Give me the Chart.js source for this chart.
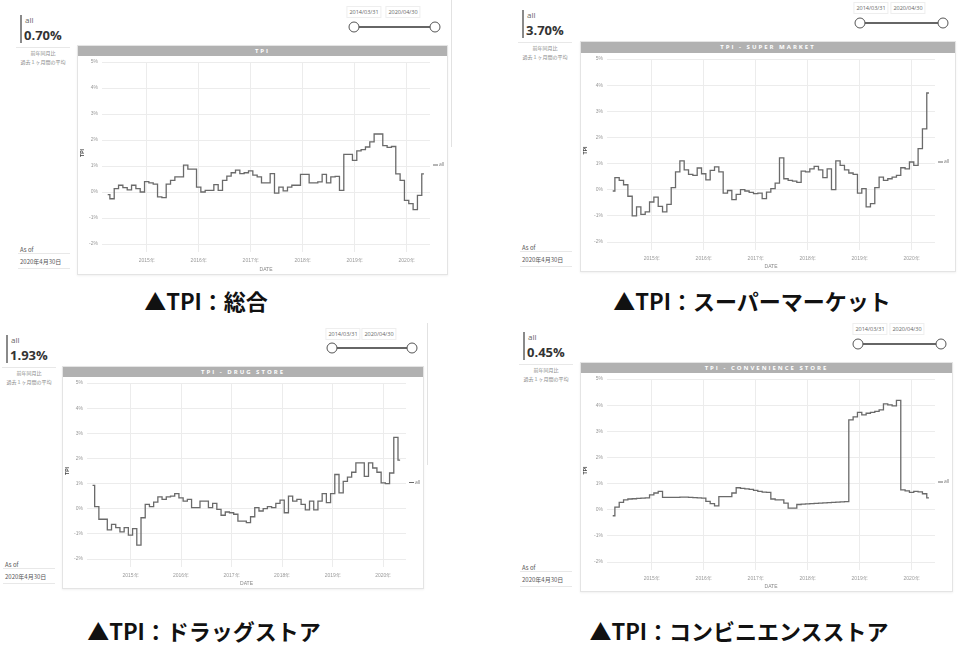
<!DOCTYPE html>
<html>
<head>
<meta charset="utf-8">
<script src="https://cdn.jsdelivr.net/npm/chart.js@4.4.0/dist/chart.umd.min.js"></script>
<style>
    body { margin: 0; width: 965px; height: 662px; background: #fff; position: relative; overflow: hidden;
           font-family: "Open Sans", "Noto Sans CJK JP", sans-serif; color: #666; }
    .abs { position: absolute; white-space: nowrap; }
    .kpi-bar { position: absolute; width: 2px; height: 28px; background: #8a8a8a; }
    .kpi-label { font-size: 8px; color: #666; }
    .kpi-value { font-size: 13px; font-weight: bold; color: #333; }
    .kpi-note { font-size: 5px; color: #888; font-family: "Noto Sans CJK JP", sans-serif; transform: translateX(-50%); line-height: 9px; text-align: center; }
    .asof { font-size: 6px; color: #555; font-family: "Noto Sans CJK JP", sans-serif; }
    .sep { position: absolute; height: 1px; background: #e8e8e8; }
    .date-box { position: absolute; font-size: 5.5px; color: #666; border: 1px solid #eee; padding: 1px 2px; transform: translate(-50%, -50%); }
    .knob { position: absolute; width: 9px; height: 9px; border: 1.5px solid #555; border-radius: 50%; background: #fff; transform: translate(-50%, -50%); }
    .track { position: absolute; height: 2px; background: #666; }
    .card { position: absolute; border: 1px solid #e4e4e4; box-shadow: 0 1px 2px rgba(0,0,0,0.06); box-sizing: border-box; }
    .card-hdr { position: absolute; left: 0; right: 0; top: 0; background: #b1b1b1;
                color: #fff; font-size: 6px; font-weight: bold; letter-spacing: 2px; text-align: center; }
    .caption { position: absolute; font-family: "Noto Sans CJK JP", sans-serif; font-weight: bold; font-size: 22px; color: #111; transform: translate(-50%, -50%); white-space: nowrap; }
    canvas { position: absolute; }
</style>
</head>
<body>
<script>
// Month-end dates (2014/03/31 .. 2020/04/30)
const months = [
    '2014-03', '2014-04', '2014-05', '2014-06', '2014-07', '2014-08', '2014-09', '2014-10', '2014-11', '2014-12',
    '2015-01', '2015-02', '2015-03', '2015-04', '2015-05', '2015-06', '2015-07', '2015-08', '2015-09', '2015-10', '2015-11', '2015-12',
    '2016-01', '2016-02', '2016-03', '2016-04', '2016-05', '2016-06', '2016-07', '2016-08', '2016-09', '2016-10', '2016-11', '2016-12',
    '2017-01', '2017-02', '2017-03', '2017-04', '2017-05', '2017-06', '2017-07', '2017-08', '2017-09', '2017-10', '2017-11', '2017-12',
    '2018-01', '2018-02', '2018-03', '2018-04', '2018-05', '2018-06', '2018-07', '2018-08', '2018-09', '2018-10', '2018-11', '2018-12',
    '2019-01', '2019-02', '2019-03', '2019-04', '2019-05', '2019-06', '2019-07', '2019-08', '2019-09', '2019-10', '2019-11', '2019-12',
    '2020-01', '2020-02', '2020-03', '2020-04'
];

// TPI (%) per series
const tpiAll = [-0.10, -0.26, 0.13, 0.26, 0.17, 0.08, 0.26, 0.13, 0.00, 0.40, 0.35, 0.30, -0.19, -0.22, 0.30, 0.45, 0.58, 0.58, 1.03, 0.88,
    0.88, 0.19, 0.00, 0.06, 0.06, 0.28, 0.06, 0.45, 0.61, 0.74, 0.84, 0.71, 0.74, 0.81, 0.65, 0.58, 0.35, 0.35, 0.71, -0.04,
    0.19, 0.04, 0.19, 0.26, 0.26, 0.68, 0.68, 0.35, 0.35, 0.39, 0.68, 0.35, 0.58, 0.60, 0.06, 1.45, 1.45, 1.22, 1.58, 1.63,
    1.73, 1.93, 2.23, 2.23, 1.78, 1.72, 1.75, 0.70, 0.45, -0.32, -0.45, -0.68, -0.13, 0.70];
const tpiSuper = [-0.05, 0.46, 0.36, 0.19, -0.25, -1.00, -0.66, -0.94, -0.85, -0.47, -0.28, -0.64, -0.85, -0.56, 0.08, 0.68, 1.10, 0.76, 0.59, 0.55,
    0.83, 0.61, 0.38, 0.74, 0.87, 0.68, -0.13, -0.03, -0.38, -0.18, 0.00, -0.05, -0.10, -0.15, -0.13, -0.34, -0.09, 0.04, 0.25, 1.22,
    0.42, 0.36, 0.33, 0.28, 0.71, 0.68, 0.80, 0.89, 0.76, 0.46, 0.80, 0.00, 1.10, 0.93, 0.76, 0.64, 0.59, -0.13, 0.04, -0.66,
    -0.53, 0.08, 0.48, 0.36, 0.42, 0.48, 0.55, 0.84, 0.80, 1.06, 0.93, 1.57, 2.33, 3.70];
const tpiDrug = [0.93, 0.08, -0.42, -0.42, -0.84, -0.62, -0.75, -0.92, -0.75, -1.05, -0.79, -1.45, -0.36, 0.17, 0.08, 0.26, 0.47, 0.37, 0.47, 0.50,
    0.60, 0.43, 0.30, 0.37, 0.04, 0.04, 0.30, 0.30, 0.04, 0.21, -0.03, -0.26, -0.13, -0.16, -0.22, -0.49, -0.49, -0.55, -0.32, 0.04,
    -0.09, 0.00, 0.08, 0.04, 0.21, 0.34, -0.16, 0.50, 0.30, 0.37, 0.17, -0.05, 0.30, -0.05, 0.30, 0.60, 0.24, 0.60, 1.36, 0.63,
    1.09, 1.26, 1.45, 1.82, 1.82, 1.29, 1.82, 1.62, 1.45, 1.03, 1.00, 1.42, 2.84, 1.93];
const tpiConv = [-0.23, 0.10, 0.28, 0.38, 0.41, 0.42, 0.43, 0.44, 0.45, 0.57, 0.64, 0.70, 0.47, 0.47, 0.47, 0.47, 0.48, 0.48, 0.47, 0.46,
    0.45, 0.44, 0.32, 0.23, 0.15, 0.50, 0.50, 0.50, 0.64, 0.84, 0.82, 0.80, 0.78, 0.74, 0.70, 0.67, 0.66, 0.41, 0.38, 0.38,
    0.25, 0.06, 0.06, 0.20, 0.21, 0.22, 0.23, 0.24, 0.25, 0.26, 0.27, 0.28, 0.29, 0.30, 0.31, 3.44, 3.55, 3.72, 3.63, 3.69,
    3.72, 3.76, 3.82, 4.05, 4.01, 3.97, 4.18, 0.76, 0.72, 0.66, 0.70, 0.68, 0.61, 0.45];

const seriesList = [tpiAll, tpiSuper, tpiDrug, tpiConv];
const seriesLabel = 'all';
const panelTitles = ['TPI', 'TPI - SUPER MARKET', 'TPI - DRUG STORE', 'TPI - CONVENIENCE STORE'];
const captions = ['▲TPI：総合', '▲TPI：スーパーマーケット', '▲TPI：ドラッグストア', '▲TPI：コンビニエンスストア'];
const xTickYears = [2015, 2016, 2017, 2018, 2019, 2020];
const yMin = -2, yMax = 5;
const sliderDates = ['2014/03/31', '2020/04/30'];
const kpiNotes = ['前年同月比', '過去１ヶ月間の平均'];
const asOfLabel = 'As of';
const asOfDate = '2020年4月30日';

// Panel layout (pixels)
const layouts = [
    { bar: [20, 15], asOf: [20, 249], knobs: [354, 435, 27], boxes: [364, 403, 12], card: [77, 45, 371, 230], hdr: 10, grid: [102, 62, 430, 244], cap: [206, 300] },
    { bar: [522, 10], asOf: [522, 247], knobs: [860, 943, 23], boxes: [871, 908, 8], card: [580, 41, 376, 231], hdr: 11, grid: [607, 59, 935, 242], cap: [752, 300] },
    { bar: [6, 335], asOf: [5, 564], knobs: [332, 412, 348], boxes: [343, 379, 334], card: [62, 366, 362, 223], hdr: 10, grid: [87, 382, 406, 559], cap: [204, 630] },
    { bar: [523, 332], asOf: [522, 567], knobs: [858, 941, 344], boxes: [870, 907, 329], card: [580, 362, 373, 230], hdr: 10, grid: [607, 379, 935, 562], cap: [739, 630] }
];
const xMin = 2014.14, xMax = 2020.45;

const monthToYear = (m) => {
    const [y, mo] = m.split('-').map(Number);
    return y + mo / 12; // month end
};

const el = (cls, css, text) => {
    const d = document.createElement('div');
    d.className = cls;
    Object.assign(d.style, css);
    if (text !== undefined) d.textContent = text;
    document.body.appendChild(d);
    return d;
};

// "— all" legend on the right side of the plot
const sideLegend = {
    id: 'sideLegend',
    afterDraw(chart) {
        const ds = chart.data.datasets[0];
        const ctx = chart.ctx;
        const x = chart.chartArea.right + 3;
        const y = chart.height / 2;
        ctx.save();
        ctx.strokeStyle = ds.borderColor;
        ctx.lineWidth = 1;
        ctx.beginPath();
        ctx.moveTo(x, y);
        ctx.lineTo(x + 5, y);
        ctx.stroke();
        ctx.fillStyle = '#777';
        ctx.font = '5px "Open Sans"';
        ctx.textBaseline = 'middle';
        ctx.fillText(ds.label, x + 6, y);
        ctx.restore();
    }
};

layouts.forEach((p, i) => {
    const values = seriesList[i];
    const [bx, by] = p.bar;

    // KPI block
    el('kpi-bar', { left: bx + 'px', top: by + 'px' });
    el('abs kpi-label', { left: (bx + 5) + 'px', top: (by - 1) + 'px' }, seriesLabel);
    el('abs kpi-value', { left: (bx + 4) + 'px', top: (by + 11) + 'px' }, values[values.length - 1].toFixed(2) + '%');
    el('sep', { left: (bx - 4) + 'px', top: (by + 32) + 'px', width: '54px' });
    el('abs kpi-note', { left: (bx + 23) + 'px', top: (by + 33) + 'px' }, kpiNotes[0]);
    el('abs kpi-note', { left: (bx + 23) + 'px', top: (by + 42) + 'px' }, kpiNotes[1]);

    // As of
    el('abs asof', { left: p.asOf[0] + 'px', top: (p.asOf[1] - 4) + 'px' }, asOfLabel);
    el('sep', { left: (p.asOf[0] - 2) + 'px', top: (p.asOf[1] + 4) + 'px', width: '52px' });
    el('abs asof', { left: p.asOf[0] + 'px', top: (p.asOf[1] + 8) + 'px' }, asOfDate);
    el('sep', { left: (p.asOf[0] - 2) + 'px', top: (p.asOf[1] + 19) + 'px', width: '52px' });

    // Date slider
    el('date-box', { left: p.boxes[0] + 'px', top: p.boxes[2] + 'px' }, sliderDates[0]);
    el('date-box', { left: p.boxes[1] + 'px', top: p.boxes[2] + 'px' }, sliderDates[1]);
    el('track', { left: p.knobs[0] + 'px', top: (p.knobs[2] - 1) + 'px', width: (p.knobs[1] - p.knobs[0]) + 'px' });
    el('knob', { left: p.knobs[0] + 'px', top: p.knobs[2] + 'px' });
    el('knob', { left: p.knobs[1] + 'px', top: p.knobs[2] + 'px' });

    // Card + header
    const [cx, cy, cw, ch] = p.card;
    const card = el('card', { left: cx + 'px', top: cy + 'px', width: cw + 'px', height: ch + 'px' });
    const hdr = document.createElement('div');
    hdr.className = 'card-hdr';
    hdr.style.height = p.hdr + 'px';
    hdr.style.lineHeight = p.hdr + 'px';
    hdr.textContent = panelTitles[i];
    card.appendChild(hdr);

    // Chart canvas below header
    const [gl, gt, gr, gb] = p.grid;
    const canvas = document.createElement('canvas');
    const top = cy + p.hdr;
    canvas.width = cw;
    canvas.height = ch - p.hdr;
    Object.assign(canvas.style, { left: cx + 'px', top: top + 'px', width: cw + 'px', height: (ch - p.hdr) + 'px' });
    document.body.appendChild(canvas);

    new Chart(canvas, {
        type: 'line',
        data: {
            datasets: [{
                label: seriesLabel,
                data: months.map((m, k) => ({ x: monthToYear(m), y: values[k] })),
                stepped: 'middle',
                borderColor: '#6a6a6a',
                borderWidth: 1.3,
                pointRadius: 0,
                fill: false
            }]
        },
        options: {
            responsive: false,
            animation: false,
            devicePixelRatio: 1,
            layout: { padding: { top: gt - top, right: cx + cw - gr, left: 0, bottom: 0 } },
            plugins: { legend: { display: false }, tooltip: { enabled: false } },
            scales: {
                x: {
                    type: 'linear', min: xMin, max: xMax,
                    afterBuildTicks: (s) => { s.ticks = xTickYears.map(v => ({ value: v })); },
                    afterFit: (s) => { s.height = cy + ch - gb; },
                    ticks: { callback: v => v + '年', font: { size: 5 }, color: '#999', padding: 6, maxRotation: 0, autoSkip: false },
                    grid: { color: '#ececec', tickLength: 8 },
                    border: { display: false },
                    title: { display: true, text: 'DATE', font: { size: 5 }, color: '#888', padding: { top: 0, bottom: 2 } }
                },
                y: {
                    min: yMin, max: yMax,
                    afterFit: (s) => { s.width = gl - cx; },
                    ticks: { stepSize: 1, callback: v => v + '%', font: { size: 5 }, color: '#999', padding: 4 },
                    grid: { color: '#ececec', drawTicks: false },
                    border: { display: false },
                    title: { display: true, text: 'TPI', font: { size: 5, weight: 'bold' }, color: '#444', padding: { top: 3, bottom: 0 } }
                }
            }
        },
        plugins: [sideLegend]
    });

    // Caption under each panel
    el('caption', { left: p.cap[0] + 'px', top: p.cap[1] + 'px' }, captions[i]);
});

// thin scroll edges on the left-hand panels
el('abs', { left: '451px', top: '0px', width: '1px', height: '147px', background: '#e2e2e2' });
el('abs', { left: '427px', top: '323px', width: '1px', height: '142px', background: '#e2e2e2' });
</script>
</body>
</html>
